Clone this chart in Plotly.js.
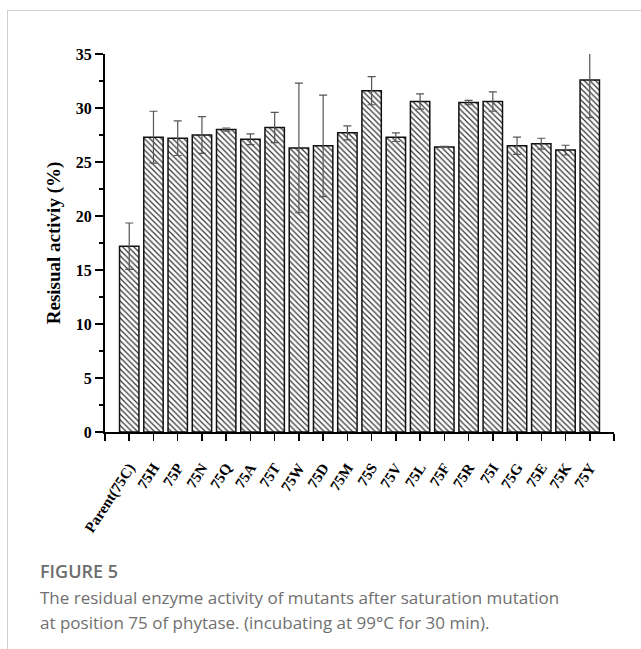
<!DOCTYPE html>
<html>
<head>
<meta charset="utf-8">
<script src="https://cdn.plot.ly/plotly-3.0.1.min.js"></script>
<style>
  html, body { margin: 0; padding: 0; background: #fff; }
  #wrap { position: relative; width: 641px; height: 649px; overflow: hidden; }
  #chart { position: absolute; left: 0; top: 0; width: 641px; height: 649px; }
  #frame { position: absolute; left: 7px; top: 10px; right: -5px; bottom: -5px;
           border-top: 1px solid #cfcfcf; border-left: 1px solid #cfcfcf; pointer-events: none; }
  #fig { position: absolute; left: 40px; top: 559px; font-family: "Open Sans", sans-serif;
         font-weight: 600; font-size: 18px; color: #6d6d6d; white-space: nowrap; }
  #cap { position: absolute; left: 40px; top: 585px; width: 600px; font-family: "Open Sans", sans-serif;
         font-weight: 400; font-size: 17px; line-height: 25px; color: #707070; white-space: nowrap; }
</style>
</head>
<body>
<div id="wrap">
  <div id="chart"></div>
  <div id="frame"></div>
  <div id="fig">FIGURE 5</div>
  <div id="cap">The residual enzyme activity of mutants after saturation mutation<br>at position 75 of phytase. (incubating at 99°C for 30 min).</div>
</div>
<script>
const categories = ['Parent(75C)','75H','75P','75N','75Q','75A','75T','75W','75D','75M',
                    '75S','75V','75L','75F','75R','75I','75G','75E','75K','75Y'];
const activity = [17.2, 27.3, 27.2, 27.5, 28.0, 27.1, 28.2, 26.3, 26.5, 27.7,
                  31.6, 27.3, 30.6, 26.4, 30.5, 30.6, 26.5, 26.7, 26.1, 32.6];
const errors = [2.15, 2.4, 1.6, 1.7, 0.15, 0.5, 1.4, 6.0, 4.7, 0.65,
                1.3, 0.4, 0.7, 0.05, 0.2, 0.9, 0.8, 0.5, 0.45, 3.5];
const yTicks = [0, 5, 10, 15, 20, 25, 30, 35];

const idx = categories.map((c, i) => i);
const tickvals = [-1].concat(idx, [categories.length]);
const ticktext = [''].concat(categories, ['']);

const serif = 'Liberation Serif, Times New Roman, serif';

const trace = {
  type: 'bar',
  x: idx,
  y: activity,
  width: 0.8,
  marker: {
    color: '#ffffff',
    line: { color: '#111111', width: 1.5 },
    pattern: { shape: '\\', fgcolor: '#333333', bgcolor: '#ffffff', size: 4, solidity: 0.3 }
  },
  error_y: { type: 'data', array: errors, visible: true, color: '#555555', thickness: 1.2, width: 4 },
  hoverinfo: 'x+y'
};

const layout = {
  width: 641, height: 649,
  margin: { l: 105, r: 27, t: 54, b: 217 },
  paper_bgcolor: 'rgba(0,0,0,0)',
  plot_bgcolor: '#ffffff',
  showlegend: false,
  xaxis: {
    range: [-1, categories.length],
    tickmode: 'array', tickvals: tickvals, ticktext: ticktext,
    tickangle: -57,
    ticklabelstandoff: 12,
    showgrid: false, zeroline: false,
    showline: true, linecolor: '#000', linewidth: 2,
    ticks: 'outside', ticklen: 7, tickwidth: 1.5, tickcolor: '#000',
    tickfont: { family: serif, size: 15, color: '#000', weight: 'bold' }
  },
  yaxis: {
    range: [0, 35],
    tickmode: 'array', tickvals: yTicks,
    showgrid: false, zeroline: false,
    showline: true, linecolor: '#000', linewidth: 2,
    ticks: 'outside', ticklen: 8, tickwidth: 1.5, tickcolor: '#000',
    minor: { ticks: 'outside', ticklen: 4, tickwidth: 1.5, tickcolor: '#000', dtick: 2.5, showgrid: false },
    tickfont: { family: serif, size: 16, color: '#000', weight: 'bold' },
    title: { text: 'Resisual activiy (%)', standoff: 10,
             font: { family: serif, size: 19, color: '#000', weight: 'bold' } }
  }
};

Plotly.newPlot('chart', [trace], layout, { displayModeBar: false, staticPlot: true });
</script>
</body>
</html>
